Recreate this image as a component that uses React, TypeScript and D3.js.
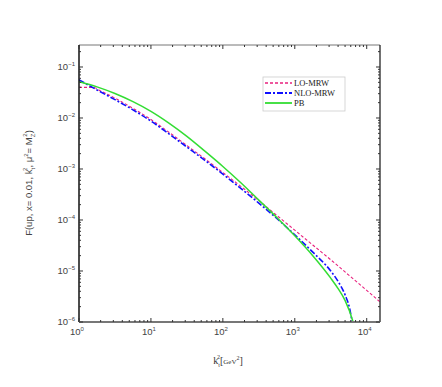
import React from 'react';
import * as d3 from 'd3';

// exponents (log10 k_t^2, log10 F)
const loK = [0, 0.2, 0.3, 0.5, 0.75, 1, 1.25, 1.5, 1.75, 2, 2.25, 2.5, 2.75, 3, 3.25, 3.5, 3.75, 4, 4.18];
const loF = [-1.4, -1.4, -1.47, -1.61, -1.81, -2.03, -2.28, -2.54, -2.8, -3.07, -3.34, -3.62, -3.91, -4.2, -4.49, -4.78, -5.08, -5.38, -5.6];

const nloK = [0, 0.25, 0.5, 0.75, 1, 1.25, 1.5, 1.75, 2, 2.25, 2.5, 2.75, 3, 3.25, 3.5, 3.6, 3.7, 3.76, 3.8];
const nloF = [-1.25, -1.45, -1.64, -1.84, -2.06, -2.31, -2.57, -2.83, -3.1, -3.38, -3.67, -3.97, -4.29, -4.63, -5.0, -5.2, -5.47, -5.72, -6.02];

const pbK = [0, 0.25, 0.5, 0.75, 1, 1.25, 1.5, 1.75, 2, 2.25, 2.5, 2.75, 3, 3.25, 3.5, 3.6, 3.7, 3.8, 3.82];
const pbF = [-1.29, -1.39, -1.52, -1.68, -1.87, -2.1, -2.36, -2.65, -2.95, -3.27, -3.61, -3.95, -4.31, -4.7, -5.14, -5.34, -5.58, -5.95, -6.05];

const xDecades = [0, 1, 2, 3, 4];
const yDecades = [-1, -2, -3, -4, -5, -6];

const series = [
  { name: 'LO-MRW', k: loK, f: loF, color: '#e8207e', dash: '3,2', width: 1.1 },
  { name: 'NLO-MRW', k: nloK, f: nloF, color: '#1010ff', dash: '6,2,2,2', width: 1.6 },
  { name: 'PB', k: pbK, f: pbF, color: '#33dd33', dash: null, width: 1.5 },
];

const W = 442;
const H = 387;
const m = { left: 79, top: 45, right: 62, bottom: 65 };

export default function App() {
  const iw = W - m.left - m.right;
  const ih = H - m.top - m.bottom;
  const x = d3.scaleLog().domain([1, 15300]).range([0, iw]);
  const y = d3.scaleLog().domain([1e-6, 0.27]).range([ih, 0]);

  const minorX: number[] = [];
  for (let d = 0; d <= 4; d++) for (let j = 2; j <= 9; j++) {
    const v = j * 10 ** d;
    if (v <= 15300) minorX.push(v);
  }
  const minorY: number[] = [];
  for (let d = -6; d <= -1; d++) for (let j = 2; j <= 9; j++) {
    const v = j * 10 ** d;
    if (v <= 0.27) minorY.push(v);
  }

  const path = (s: typeof series[0]) =>
    d3
      .line<number>()
      .x((_, i) => x(10 ** s.k[i]))
      .y((v) => y(10 ** v))
      .curve(d3.curveMonotoneX)(s.f) || '';

  const tickFont = { fontFamily: 'Liberation Sans, Arial, sans-serif', fontSize: 9.5, fill: '#444' };

  return (
    <svg width={W} height={H} style={{ position: 'absolute', left: 0, top: 0, background: '#fff' }}>
      <defs>
        <clipPath id="plot">
          <rect x={0} y={0} width={iw} height={ih} />
        </clipPath>
      </defs>
      <g transform={`translate(${m.left},${m.top})`}>
        {/* curves */}
        <g clipPath="url(#plot)">
          {series.map((s) => (
            <path
              key={s.name}
              d={path(s)}
              fill="none"
              stroke={s.color}
              strokeWidth={s.width}
              strokeDasharray={s.dash || undefined}
            />
          ))}
        </g>

        {/* frame */}
        <line x1={0} x2={iw} y1={0} y2={0} stroke="#777" strokeWidth={1} />
        <line x1={iw} x2={iw} y1={0} y2={ih} stroke="#111" strokeWidth={1.2} />
        <line x1={0} x2={0} y1={0} y2={ih} stroke="#111" strokeWidth={1.5} />
        <line x1={0} x2={iw} y1={ih} y2={ih} stroke="#777" strokeWidth={2.2} />

        {/* x ticks, bottom and top */}
        {xDecades.map((d) => (
          <g key={'xt' + d}>
            <line x1={x(10 ** d)} x2={x(10 ** d)} y1={ih} y2={ih - 4} stroke="#333" />
            <line x1={x(10 ** d)} x2={x(10 ** d)} y1={0} y2={4} stroke="#333" />
            <text x={x(10 ** d) - 2} y={ih + 13} textAnchor="middle" {...tickFont}>
              10<tspan dy={-4} fontSize={6}>{d}</tspan>
            </text>
          </g>
        ))}
        {minorX.map((v) => (
          <g key={'xm' + v}>
            <line x1={x(v)} x2={x(v)} y1={ih} y2={ih - 2} stroke="#333" />
            <line x1={x(v)} x2={x(v)} y1={0} y2={2} stroke="#333" />
          </g>
        ))}

        {/* y ticks, left and right */}
        {yDecades.map((d) => (
          <g key={'yt' + d}>
            <line x1={0} x2={4} y1={y(10 ** d)} y2={y(10 ** d)} stroke="#333" />
            <line x1={iw} x2={iw - 4} y1={y(10 ** d)} y2={y(10 ** d)} stroke="#333" />
            <text x={-4} y={y(10 ** d) + 3} textAnchor="end" {...tickFont}>
              10<tspan dy={-4} fontSize={6}>{'\u2212' + -d}</tspan>
            </text>
          </g>
        ))}
        {minorY.map((v) => (
          <g key={'ym' + v}>
            <line x1={0} x2={2} y1={y(v)} y2={y(v)} stroke="#333" />
            <line x1={iw} x2={iw - 2} y1={y(v)} y2={y(v)} stroke="#333" />
          </g>
        ))}

        {/* legend */}
        <g transform="translate(184,32)">
          <rect x={0} y={0} width={82} height={34} fill="#fff" stroke="#ccc" strokeWidth={0.8} />
          {series.map((s, i) => (
            <g key={'lg' + s.name} transform={`translate(0,${6 + i * 10})`}>
              <line
                x1={2}
                x2={29}
                y1={0}
                y2={0}
                stroke={s.color}
                strokeWidth={s.width + 0.3}
                strokeDasharray={s.dash || undefined}
              />
              <text x={31} y={3} fontFamily="Liberation Serif, Times New Roman, serif" fontSize={8.5} fill="#222">
                {s.name}
              </text>
            </g>
          ))}
        </g>
      </g>

      {/* axis titles */}
      <text x={228} y={364} textAnchor="middle" fontFamily="Liberation Serif, serif" fontSize={10} fill="#333">
        k<tspan dy={3} fontSize={6}>t</tspan>
        <tspan dy={-8} dx={-3} fontSize={6}>2</tspan>
        <tspan dy={5} fontSize={10}>[</tspan>
        <tspan fontSize={7}>GeV</tspan>
        <tspan dy={-4} fontSize={6}>2</tspan>
        <tspan dy={4} fontSize={10}>]</tspan>
      </text>
      <text
        transform="translate(32,183) rotate(-90)"
        textAnchor="middle"
        fontFamily="Liberation Sans, Arial, sans-serif"
        fontSize={9.5}
        fill="#444"
      >
        F(up, x= 0.01, k<tspan dy={3} fontSize={6}>t</tspan>
        <tspan dy={-8} dx={-3} fontSize={6}>2</tspan>
        <tspan dy={5}>, μ</tspan>
        <tspan dy={-4} fontSize={6}>2</tspan>
        <tspan dy={4}>= M</tspan>
        <tspan dy={3} fontSize={6}>Z</tspan>
        <tspan dy={-8} dx={-3} fontSize={6}>2</tspan>
        <tspan dy={5}>)</tspan>
      </text>
    </svg>
  );
}
